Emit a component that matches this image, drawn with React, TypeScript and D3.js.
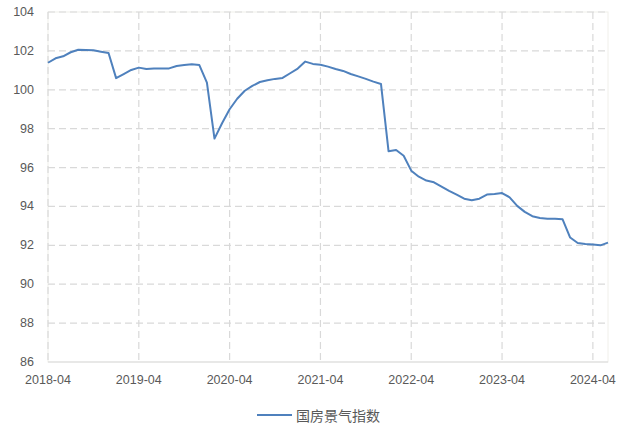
import React from "react";
import * as d3 from "d3";

const startYear = 2018;
const startMonth = 4;
const values: number[] = [
  101.39, 101.62, 101.72, 101.93, 102.06, 102.05, 102.03, 101.96, 101.89, 100.6,
  100.81, 101.02, 101.14, 101.07, 101.1, 101.1, 101.1, 101.22, 101.27, 101.31,
  101.27, 100.37, 97.49, 98.28, 99.0, 99.54, 99.95, 100.2, 100.4, 100.49,
  100.56, 100.61, 100.85, 101.09, 101.45, 101.33, 101.29, 101.19, 101.07, 100.97,
  100.81, 100.69, 100.56, 100.42, 100.3, 96.84, 96.9, 96.61, 95.84, 95.53,
  95.33, 95.24, 95.02, 94.8, 94.61, 94.4, 94.32, 94.4, 94.61, 94.64,
  94.69, 94.47, 94.03, 93.72, 93.5, 93.41, 93.37, 93.37, 93.34, 92.4,
  92.12, 92.07, 92.04, 92.0, 92.14,
];
const categories: string[] = values.map((_, i) => {
  const m = startMonth - 1 + i;
  const y = startYear + Math.floor(m / 12);
  const mm = (m % 12) + 1;
  return `${y}-${String(mm).padStart(2, "0")}`;
});
const xTickLabels = ["2018-04", "2019-04", "2020-04", "2021-04", "2022-04", "2023-04", "2024-04"];
const yTicks = [86, 88, 90, 92, 94, 96, 98, 100, 102, 104];
const seriesName = "国房景气指数";

const W = 624;
const H = 427;
const L = 48;
const R = 608;
const T = 12;
const B = 362;

export default function App() {
  const x = d3.scaleLinear().domain([0, categories.length - 1]).range([L, R]);
  const y = d3.scaleLinear().domain([86, 104]).range([B, T]);
  const line = d3
    .line<number>()
    .x((_, i) => x(i))
    .y((d) => y(d));
  const font = "'Liberation Sans', Arial, 'Noto Sans CJK SC', sans-serif";
  const grid = "#d9d9d9";
  const txt = "#595959";
  return (
    <svg
      width={W}
      height={H}
      style={{ position: "absolute", left: 0, top: 0, background: "#fff" }}
      fontFamily={font}
    >
      <rect x={0} y={0} width={W} height={H} fill="#fff" />
      {/* plot border */}
      <rect x={L} y={T} width={R - L} height={B - T} fill="none" stroke="#f0efea" strokeWidth={1} />
      {yTicks.map((t) =>
        t === 86 ? null : (
          <line
            key={"h" + t}
            x1={L}
            x2={R}
            y1={y(t)}
            y2={y(t)}
            stroke={grid}
            strokeWidth={1.2}
            strokeDasharray="7,4"
          />
        )
      )}
      {xTickLabels.map((lab) => {
        const i = categories.indexOf(lab);
        return (
          <line
            key={"v" + lab}
            x1={x(i)}
            x2={x(i)}
            y1={T}
            y2={B}
            stroke={grid}
            strokeWidth={1.2}
            strokeDasharray="7,4"
          />
        );
      })}
      <line x1={L} x2={R} y1={B} y2={B} stroke={grid} strokeWidth={1} />
      {yTicks.map((t) => (
        <text
          key={"yl" + t}
          x={34}
          y={y(t)}
          textAnchor="end"
          dominantBaseline="central"
          fontSize={12.5}
          fill={txt}
        >
          {t}
        </text>
      ))}
      {xTickLabels.map((lab) => {
        const i = categories.indexOf(lab);
        return (
          <text
            key={"xl" + lab}
            x={x(i)}
            y={384}
            textAnchor="middle"
            fontSize={12.5}
            fill={txt}
          >
            {lab}
          </text>
        );
      })}
      <path d={line(values) || ""} fill="none" stroke="#4f81bd" strokeWidth={2} strokeLinejoin="round" />
      <line x1={257} x2={292} y1={415} y2={415} stroke="#4f81bd" strokeWidth={2} />
      <text x={296} y={415} dominantBaseline="central" fontSize={14} fill={txt} fontFamily="'Noto Sans CJK SC', sans-serif">
        {seriesName}
      </text>
    </svg>
  );
}
